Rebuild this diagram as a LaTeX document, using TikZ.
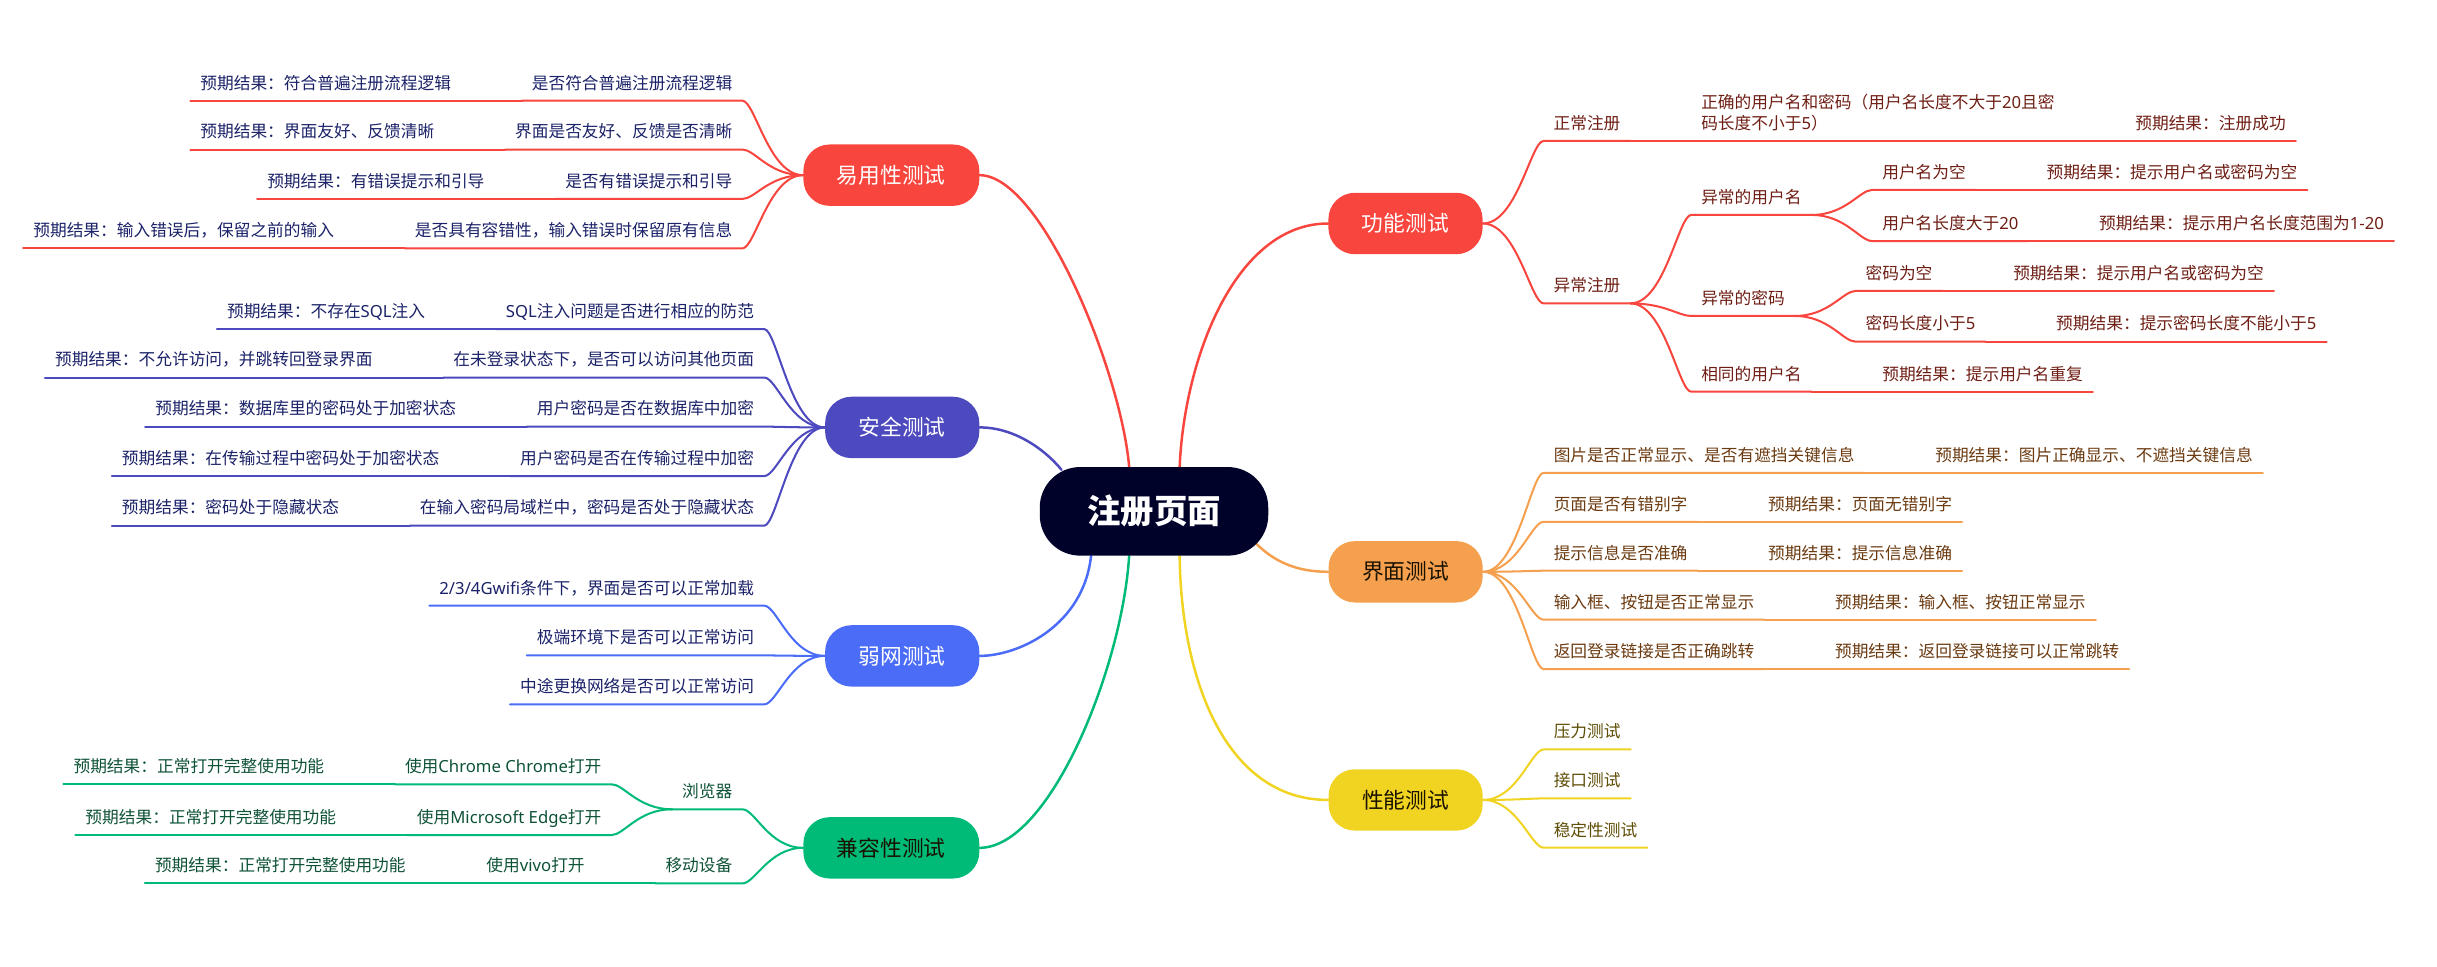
\documentclass[tikz,border=0pt]{standalone}
\usepackage{fontspec}
\setmainfont{Noto Sans CJK SC}
\newfontfamily\latf{Noto Sans}
\usetikzlibrary{calc}
\pgfdeclarelayer{bg}
\pgfsetlayers{bg,main}
\definecolor{cR}{HTML}{F8453D}
\definecolor{cO}{HTML}{F5A04F}
\definecolor{cY}{HTML}{F1D422}
\definecolor{cI}{HTML}{4D49BE}
\definecolor{cB}{HTML}{4A6CF7}
\definecolor{cG}{HTML}{00BA78}
\definecolor{cK}{HTML}{00022A}
\definecolor{tR}{HTML}{6E1E14}
\definecolor{tO}{HTML}{6B3A10}
\definecolor{tY}{HTML}{5E4D05}
\definecolor{tN}{HTML}{1B2268}
\definecolor{tG}{HTML}{0E5236}
\definecolor{pk}{HTML}{1A1200}
\newcommand\fs{\fontsize{10.75}{13.3}\selectfont}
\newcommand\lt[1]{{\latf #1}}
\newcommand\mmr[3]{\draw[#1] (#2) .. controls ([xshift=22pt]#2) and ([xshift=-8pt]#3.south west) .. (#3.south west) -- (#3.south east);}
\newcommand\mml[3]{\draw[#1] (#2) .. controls ([xshift=-22pt]#2) and ([xshift=8pt]#3.south east) .. (#3.south east) -- (#3.south west);}
\begin{document}
\begin{tikzpicture}[x=1pt,y=1pt,
  leaf/.style={inner xsep=6.5pt, inner ysep=5.5pt, text height=9.5pt, text depth=2pt, font=\fs, outer sep=0pt},
  rleaf/.style={leaf, anchor=south west, xshift=39pt},
  lleaf/.style={leaf, anchor=south east, xshift=-39pt},
  pill/.style={rounded corners=17pt, minimum height=39.5pt, inner xsep=21.6pt, inner ysep=0pt, font=\fontsize{14}{16}\selectfont},
  mainline/.style={line width=1.6pt, line cap=round},
  subline/.style={line width=1.3pt, line cap=round, line join=round},
  lR/.style={subline, draw=cR}, lO/.style={subline, draw=cO}, lY/.style={subline, draw=cY},
  lI/.style={subline, draw=cI}, lB/.style={subline, draw=cB}, lG/.style={subline, draw=cG}]
\useasboundingbox (0,0) rectangle (1568,-622);

% ---------- central and main topics ----------
\node[fill=cK, text=white, rounded corners=26pt, minimum width=147pt, minimum height=57pt, inner sep=0pt,
      font=\fontsize{21.5}{24}\selectfont\bfseries] (root) at (742.5,-329) {注册页面};
\node[pill, fill=cR, text=white] (fn) at (904.3,-143.8) {功能测试};
\node[pill, fill=cO, text=pk] (ui) at (904.4,-367.9) {界面测试};
\node[pill, fill=cY, text=pk] (pf) at (904.4,-514.7) {性能测试};
\node[pill, fill=cR, text=white] (us) at (573.5,-112.7) {易用性测试};
\node[pill, fill=cI, text=white] (sec) at (580.5,-275) {安全测试};
\node[pill, fill=cB, text=white] (wk) at (580.5,-422) {弱网测试};
\node[pill, fill=cG, text=pk] (cp) at (573.5,-545.5) {兼容性测试};

% ---------- 功能测试 ----------
\begin{scope}[every node/.append style={text=tR}]
\node[rleaf] (f1) at (fn.east |- 0,-90.7) {正常注册};
\node[rleaf] (f1a) at (f1.south east |- 0,-90.7) {\vbox{\baselineskip=13.3pt\hbox{正确的用户名和密码（用户名长度不大于\lt{20}且密}\hbox{码长度不小于\lt{5}）}}};
\node[rleaf] (f1b) at (f1a.south east |- 0,-90.7) {预期结果：注册成功};
\node[rleaf] (f2) at (fn.east |- 0,-195.2) {异常注册};
\node[rleaf] (f21) at (f2.south east |- 0,-138.3) {异常的用户名};
\node[rleaf] (f211) at (f21.south east |- 0,-122.2) {用户名为空};
\node[rleaf] (f211a) at (f211.south east |- 0,-122.2) {预期结果：提示用户名或密码为空};
\node[rleaf] (f212) at (f21.south east |- 0,-155.1) {用户名长度大于\lt{20}};
\node[rleaf] (f212a) at (f212.south east |- 0,-155.1) {预期结果：提示用户名长度范围为\lt{1-20}};
\node[rleaf] (f22) at (f2.south east |- 0,-203.3) {异常的密码};
\node[rleaf] (f221) at (f22.south east |- 0,-187.2) {密码为空};
\node[rleaf] (f221a) at (f221.south east |- 0,-187.2) {预期结果：提示用户名或密码为空};
\node[rleaf] (f222) at (f22.south east |- 0,-219.8) {密码长度小于\lt{5}};
\node[rleaf] (f222a) at (f222.south east |- 0,-219.8) {预期结果：提示密码长度不能小于\lt{5}};
\node[rleaf] (f23) at (f2.south east |- 0,-252) {相同的用户名};
\node[rleaf] (f23a) at (f23.south east |- 0,-252) {预期结果：提示用户名重复};
\end{scope}

% ---------- 界面测试 ----------
\begin{scope}[every node/.append style={text=tO}]
\node[rleaf] (u1) at (ui.east |- 0,-304.2) {图片是否正常显示、是否有遮挡关键信息};
\node[rleaf] (u1a) at (u1.south east |- 0,-304.2) {预期结果：图片正确显示、不遮挡关键信息};
\node[rleaf] (u2) at (ui.east |- 0,-335.7) {页面是否有错别字};
\node[rleaf] (u2a) at (u2.south east |- 0,-335.7) {预期结果：页面无错别字};
\node[rleaf] (u3) at (ui.east |- 0,-367.2) {提示信息是否准确};
\node[rleaf] (u3a) at (u3.south east |- 0,-367.2) {预期结果：提示信息准确};
\node[rleaf] (u4) at (ui.east |- 0,-398.7) {输入框、按钮是否正常显示};
\node[rleaf] (u4a) at (u4.south east |- 0,-398.7) {预期结果：输入框、按钮正常显示};
\node[rleaf] (u5) at (ui.east |- 0,-430.5) {返回登录链接是否正确跳转};
\node[rleaf] (u5a) at (u5.south east |- 0,-430.5) {预期结果：返回登录链接可以正常跳转};
\end{scope}

% ---------- 性能测试 ----------
\begin{scope}[every node/.append style={text=tY}]
\node[rleaf] (p1) at (pf.east |- 0,-482.2) {压力测试};
\node[rleaf] (p2) at (pf.east |- 0,-513.7) {接口测试};
\node[rleaf] (p3) at (pf.east |- 0,-545.4) {稳定性测试};
\end{scope}

% ---------- 易用性测试 ----------
\begin{scope}[every node/.append style={text=tN}]
\node[lleaf] (e1) at (us.west |- 0,-64.8) {是否符合普遍注册流程逻辑};
\node[lleaf] (e1a) at (e1.south west |- 0,-64.8) {预期结果：符合普遍注册流程逻辑};
\node[lleaf] (e2) at (us.west |- 0,-96.2) {界面是否友好、反馈是否清晰};
\node[lleaf] (e2a) at (e2.south west |- 0,-96.2) {预期结果：界面友好、反馈清晰};
\node[lleaf] (e3) at (us.west |- 0,-128) {是否有错误提示和引导};
\node[lleaf] (e3a) at (e3.south west |- 0,-128) {预期结果：有错误提示和引导};
\node[lleaf] (e4) at (us.west |- 0,-159.8) {是否具有容错性，输入错误时保留原有信息};
\node[lleaf] (e4a) at (e4.south west |- 0,-159.8) {预期结果：输入错误后，保留之前的输入};

% ---------- 安全测试 ----------
\node[lleaf] (s1) at (sec.west |- 0,-211.7) {\lt{SQL}注入问题是否进行相应的防范};
\node[lleaf] (s1a) at (s1.south west |- 0,-211.7) {预期结果：不存在\lt{SQL}注入};
\node[lleaf] (s2) at (sec.west |- 0,-242.9) {在未登录状态下，是否可以访问其他页面};
\node[lleaf] (s2a) at (s2.south west |- 0,-242.9) {预期结果：不允许访问，并跳转回登录界面};
\node[lleaf] (s3) at (sec.west |- 0,-274.5) {用户密码是否在数据库中加密};
\node[lleaf] (s3a) at (s3.south west |- 0,-274.5) {预期结果：数据库里的密码处于加密状态};
\node[lleaf] (s4) at (sec.west |- 0,-306.3) {用户密码是否在传输过程中加密};
\node[lleaf] (s4a) at (s4.south west |- 0,-306.3) {预期结果：在传输过程中密码处于加密状态};
\node[lleaf] (s5) at (sec.west |- 0,-338.2) {在输入密码局域栏中，密码是否处于隐藏状态};
\node[lleaf] (s5a) at (s5.south west |- 0,-338.2) {预期结果：密码处于隐藏状态};

% ---------- 弱网测试 ----------
\node[lleaf] (w1) at (wk.west |- 0,-389.7) {\lt{2/3/4Gwifi}条件下，界面是否可以正常加载};
\node[lleaf] (w2) at (wk.west |- 0,-421.7) {极端环境下是否可以正常访问};
\node[lleaf] (w3) at (wk.west |- 0,-453.2) {中途更换网络是否可以正常访问};
\end{scope}

% ---------- 兼容性测试 ----------
\begin{scope}[every node/.append style={text=tG}]
\node[lleaf] (c1) at (cp.west |- 0,-520.7) {浏览器};
\node[lleaf] (c11) at (c1.south west |- 0,-504.6) {使用\lt{Chrome Chrome}打开};
\node[lleaf] (c11a) at (c11.south west |- 0,-504.6) {预期结果：正常打开完整使用功能};
\node[lleaf] (c12) at (c1.south west |- 0,-537.3) {使用\lt{Microsoft Edge}打开};
\node[lleaf] (c12a) at (c12.south west |- 0,-537.3) {预期结果：正常打开完整使用功能};
\node[lleaf] (c2) at (cp.west |- 0,-568.4) {移动设备};
\node[lleaf] (c21) at (c2.south west |- 0,-568.4) {使用\lt{vivo}打开};
\node[lleaf] (c21a) at (c21.south west |- 0,-568.4) {预期结果：正常打开完整使用功能};
\end{scope}

% ---------- connectors ----------
\begin{pgfonlayer}{bg}
\draw[mainline, cR] ([xshift=16.5pt]root.north) .. controls ([xshift=19.5pt,yshift=70pt]root.north) and ([xshift=-59.5pt]fn.west) .. (fn.west);
\draw[mainline, cO] ([xshift=-8pt,yshift=8pt]root.south east) .. controls ([xshift=4pt,yshift=-4pt]root.south east) and ([xshift=-20pt]ui.west) .. (ui.west);
\draw[mainline, cY] ([xshift=16.5pt]root.south) .. controls ([xshift=17.5pt,yshift=-82pt]root.south) and ([xshift=-64.7pt]pf.west) .. (pf.west);
\draw[mainline, cR] ([xshift=-16pt]root.north) .. controls ([xshift=-21pt,yshift=60pt]root.north) and ([xshift=40pt]us.east) .. (us.east);
\draw[mainline, cI] ([xshift=-59.5pt,yshift=-2pt]root.north) .. controls ([xshift=-67.5pt,yshift=8pt]root.north) and ([xshift=25pt]sec.east) .. (sec.east);
\draw[mainline, cB] ([xshift=-40.5pt]root.south) .. controls ([xshift=-45.5pt,yshift=-45pt]root.south) and ([xshift=25pt]wk.east) .. (wk.east);
\draw[mainline, cG] ([xshift=-16pt]root.south) .. controls ([xshift=-20.5pt,yshift=-72pt]root.south) and ([xshift=45pt]cp.east) .. (cp.east);

% 功能测试
\mmr{lR}{fn.east}{f1}
\mmr{lR}{f1.south east}{f1a}
\mmr{lR}{f1a.south east}{f1b}
\mmr{lR}{fn.east}{f2}
\mmr{lR}{f2.south east}{f21}
\mmr{lR}{f21.south east}{f211}
\mmr{lR}{f211.south east}{f211a}
\mmr{lR}{f21.south east}{f212}
\mmr{lR}{f212.south east}{f212a}
\mmr{lR}{f2.south east}{f22}
\mmr{lR}{f22.south east}{f221}
\mmr{lR}{f221.south east}{f221a}
\mmr{lR}{f22.south east}{f222}
\mmr{lR}{f222.south east}{f222a}
\mmr{lR}{f2.south east}{f23}
\mmr{lR}{f23.south east}{f23a}
% 界面测试
\foreach \i in {1,...,5} {\mmr{lO}{ui.east}{u\i} \mmr{lO}{u\i.south east}{u\i a}}
% 性能测试
\foreach \i in {1,2,3} {\mmr{lY}{pf.east}{p\i}}
% 易用性测试
\foreach \i in {1,...,4} {\mml{lR}{us.west}{e\i} \mml{lR}{e\i.south west}{e\i a}}
% 安全测试
\foreach \i in {1,...,5} {\mml{lI}{sec.west}{s\i} \mml{lI}{s\i.south west}{s\i a}}
% 弱网测试
\foreach \i in {1,2,3} {\mml{lB}{wk.west}{w\i}}
% 兼容性测试
\mml{lG}{cp.west}{c1}
\mml{lG}{c1.south west}{c11}
\mml{lG}{c11.south west}{c11a}
\mml{lG}{c1.south west}{c12}
\mml{lG}{c12.south west}{c12a}
\mml{lG}{cp.west}{c2}
\mml{lG}{c2.south west}{c21}
\mml{lG}{c21.south west}{c21a}
\end{pgfonlayer}
\end{tikzpicture}
\end{document}
